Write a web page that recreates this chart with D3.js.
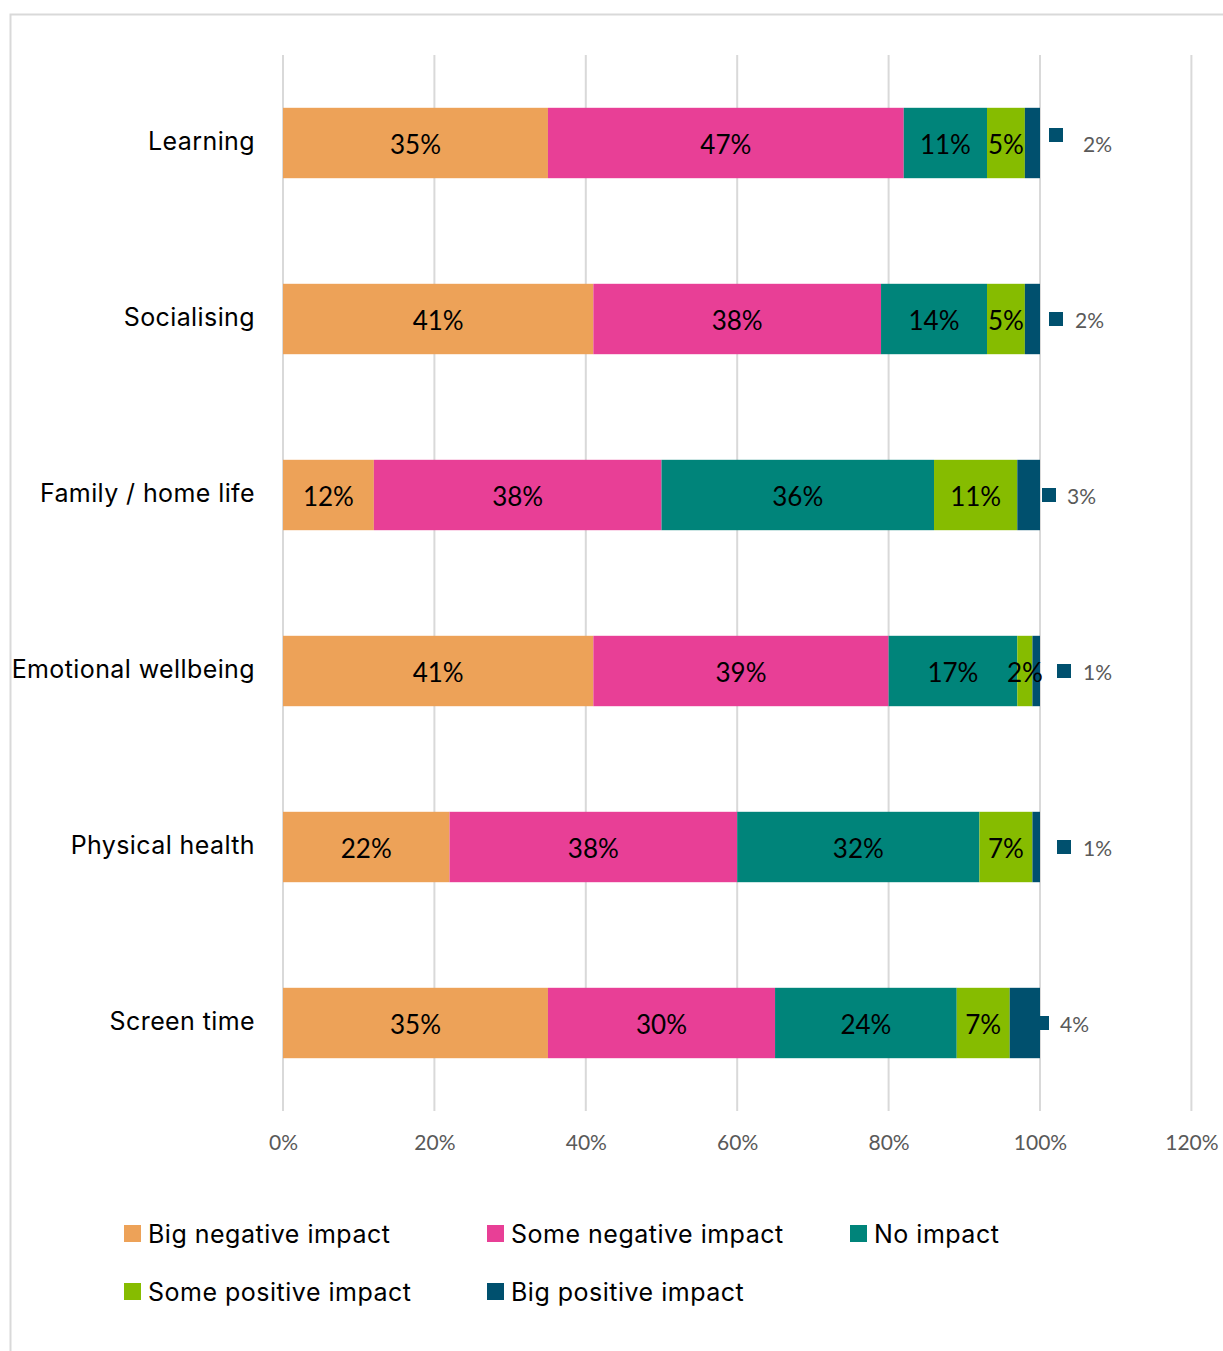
<!DOCTYPE html>
<html>
<head>
<meta charset="utf-8">
<script src="https://cdn.jsdelivr.net/npm/d3@7"></script>
<style>
  body { margin: 0; background: #fff; }
  .cat { font-family: Inter, "Open Sans", sans-serif; font-size: 25px; letter-spacing: 0.4px; fill: #000; }
  .leg { font-family: Inter, "Open Sans", sans-serif; font-size: 25px; letter-spacing: 0.5px; fill: #000; }
  .val { font-family: Lato, "Liberation Sans", sans-serif; font-size: 26px; fill: #000; }
  .tick text { font-family: Lato, "Liberation Sans", sans-serif; font-size: 21px; fill: #595959; }
  .outer { font-family: Lato, "Liberation Sans", sans-serif; font-size: 21px; fill: #595959; }
</style>
</head>
<body>
<script>
'use strict';

var categories = ["Learning", "Socialising", "Family / home life", "Emotional wellbeing", "Physical health", "Screen time"];
var seriesNames = ["Big negative impact", "Some negative impact", "No impact", "Some positive impact", "Big positive impact"];
var bigNegative = [35, 41, 12, 41, 22, 35];
var someNegative = [47, 38, 38, 39, 38, 30];
var noImpact = [11, 14, 36, 17, 32, 24];
var somePositive = [5, 5, 11, 2, 7, 7];
var bigPositive = [2, 2, 3, 1, 1, 4];
var xTicks = [0, 20, 40, 60, 80, 100, 120];

var colors = ["#EDA258", "#E83F96", "#00847A", "#86BC00", "#00506E"];
// excel put the outside labels at slightly different spots on each row
var outerNudge = [9, 9, 2, 17, 17, -5];
var outerNudgeY = [-8, 0, 0, 0, 0, 0];
var outerGap = [34, 26, 25, 26, 26, 25];

var W = 1223, H = 1351;
var margin = {top: 55, left: 283};
var plotH = 1056;

var svg = d3.select("body").append("svg")
    .attr("width", W)
    .attr("height", H);

svg.append("rect")
    .attr("x", 10.5).attr("y", 14.5)
    .attr("width", 1240).attr("height", 1360)
    .attr("fill", "none")
    .attr("stroke", "#d9d9d9")
    .attr("stroke-width", 2);

var x = d3.scaleLinear().domain([0, 120]).range([margin.left, margin.left + 908.4]);
var y = d3.scaleBand().domain(categories).range([margin.top, margin.top + plotH]).paddingInner(0.6).paddingOuter(0.3);

// gridlines
svg.append("g")
    .selectAll("line")
    .data(xTicks)
    .enter().append("line")
    .attr("x1", function(d) { return x(d); })
    .attr("x2", function(d) { return x(d); })
    .attr("y1", margin.top)
    .attr("y2", margin.top + plotH)
    .attr("stroke", "#d9d9d9")
    .attr("stroke-width", 2);

var xAxis = svg.append("g")
    .attr("class", "x axis")
    .attr("transform", "translate(0," + (margin.top + plotH) + ")")
    .call(d3.axisBottom(x).tickValues(xTicks).tickSize(0).tickPadding(24).tickFormat(function(d) { return d + "%"; }));
xAxis.select(".domain").remove();

var series = [bigNegative, someNegative, noImpact, somePositive, bigPositive];
var rows = categories.map(function(c, i) {
    var row = {cat: c, idx: i};
    seriesNames.forEach(function(s, j) { row[s] = series[j][i]; });
    return row;
});
var stacked = d3.stack().keys(seriesNames)(rows);

var layer = svg.selectAll(".layer")
    .data(stacked)
    .enter().append("g")
    .attr("class", "layer")
    .attr("fill", function(d, i) { return colors[i]; });

layer.selectAll("rect")
    .data(function(d) { return d; })
    .enter().append("rect")
    .attr("x", function(d) { return x(d[0]); })
    .attr("y", function(d) { return y(d.data.cat); })
    .attr("width", function(d) { return x(d[1]) - x(d[0]); })
    .attr("height", y.bandwidth());

// inside labels for first four series
stacked.slice(0, 4).forEach(function(s) {
    svg.append("g").selectAll("text")
        .data(s)
        .enter().append("text")
        .attr("class", "val")
        .attr("x", function(d) { return (x(d[0]) + x(d[1])) / 2; })
        .attr("y", function(d) { return y(d.data.cat) + y.bandwidth() / 2 + 2; })
        .attr("dy", "0.36em")
        .attr("text-anchor", "middle")
        .text(function(d) { return (d[1] - d[0]) + "%"; });
});

// big positive: label outside with legend key
var outer = svg.append("g").selectAll("g")
    .data(stacked[4])
    .enter().append("g")
    .attr("transform", function(d, i) {
        return "translate(" + (x(d[1]) + outerNudge[i]) + "," + (y(d.data.cat) + y.bandwidth() / 2) + ")";
    });
outer.append("rect")
    .attr("x", 0)
    .attr("y", function(d, i) { return -7 + outerNudgeY[i]; })
    .attr("width", 14).attr("height", 14)
    .attr("fill", colors[4]);
outer.append("text")
    .attr("class", "outer")
    .attr("x", function(d, i) { return outerGap[i]; })
    .attr("y", 1)
    .attr("dy", "0.36em")
    .text(function(d) { return (d[1] - d[0]) + "%"; });

// category labels
svg.append("g").selectAll("text")
    .data(categories)
    .enter().append("text")
    .attr("class", "cat")
    .attr("x", 255)
    .attr("y", function(d) { return y(d) + y.bandwidth() / 2 - 2; })
    .attr("dy", "0.35em")
    .attr("text-anchor", "end")
    .text(function(d) { return d; });

// legend
var legend = svg.append("g").selectAll("g")
    .data(seriesNames)
    .enter().append("g")
    .attr("transform", function(d, i) {
        return "translate(" + (124 + (i % 3) * 363) + "," + (1234 + Math.floor(i / 3) * 58) + ")";
    });
legend.append("rect")
    .attr("x", 0).attr("y", -9)
    .attr("width", 17).attr("height", 17)
    .attr("fill", function(d, i) { return colors[i]; });
legend.append("text")
    .attr("class", "leg")
    .attr("x", 24)
    .attr("y", 0)
    .attr("dy", "0.35em")
    .text(function(d) { return d; });
</script>
</body>
</html>
